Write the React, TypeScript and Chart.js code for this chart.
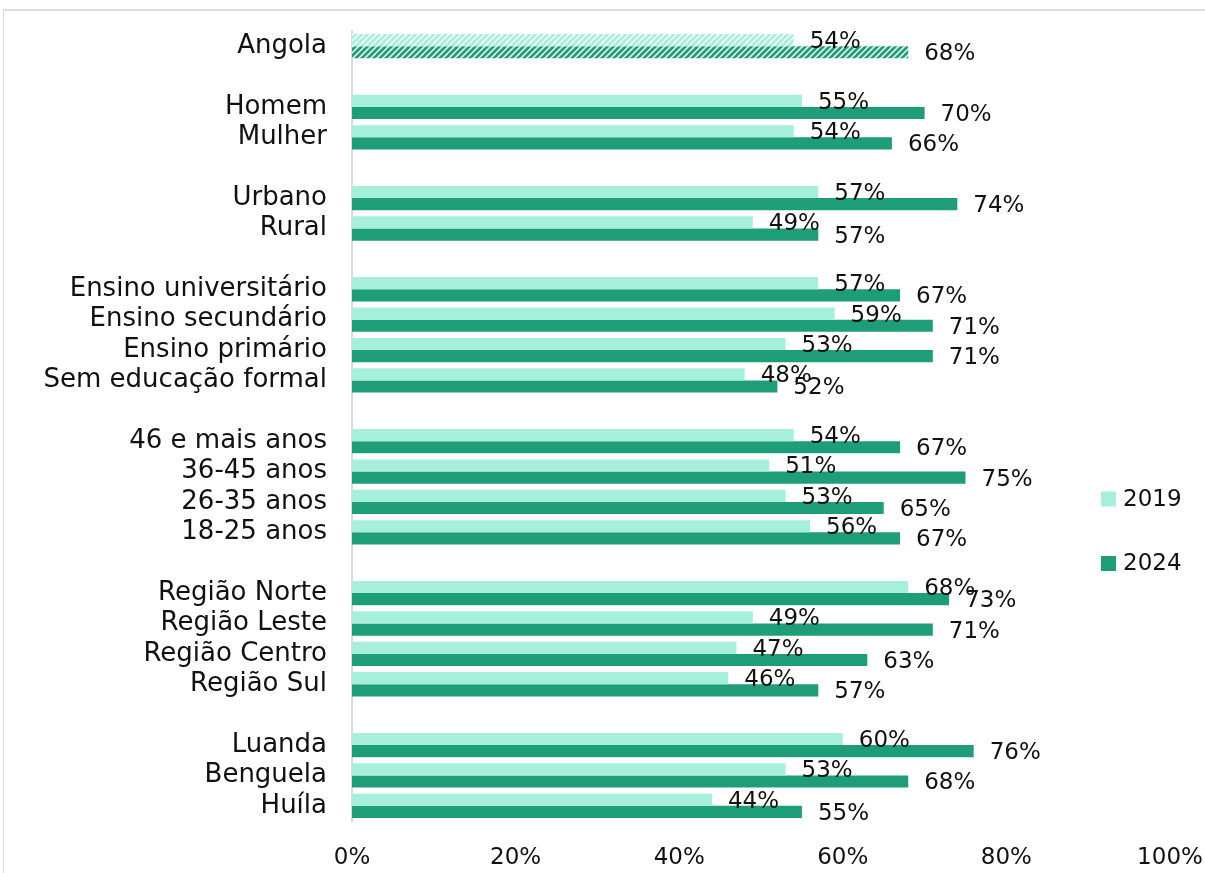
import React, { useEffect, useRef } from "react";
import { Chart, registerables } from "chart.js";

Chart.register(...registerables);

const categories = [
  "Angola", "",
  "Homem", "Mulher", "",
  "Urbano", "Rural", "",
  "Ensino universitário", "Ensino secundário", "Ensino primário", "Sem educação formal", "",
  "46 e mais anos", "36-45 anos", "26-35 anos", "18-25 anos", "",
  "Região Norte", "Região Leste", "Região Centro", "Região Sul", "",
  "Luanda", "Benguela", "Huíla",
];

const values2019 = [
  54, null,
  55, 54, null,
  57, 49, null,
  57, 59, 53, 48, null,
  54, 51, 53, 56, null,
  68, 49, 47, 46, null,
  60, 53, 44,
];

const values2024 = [
  68, null,
  70, 66, null,
  74, 57, null,
  67, 71, 71, 52, null,
  67, 75, 65, 67, null,
  73, 71, 63, 57, null,
  76, 68, 55,
];

const seriesNames = ["2019", "2024"];
const xTicks = [0, 20, 40, 60, 80, 100];

const LIGHT = "#a6efda";
const DARK = "#1e9e78";
const FONT = "'DejaVu Sans', sans-serif";
const TEXT = "#111111";

function makePattern(fg: string, bg: string): CanvasPattern | string {
  const c = document.createElement("canvas");
  c.width = 6;
  c.height = 6;
  const x = c.getContext("2d");
  if (!x) return fg;
  x.fillStyle = bg;
  x.fillRect(0, 0, 6, 6);
  x.strokeStyle = fg;
  x.lineWidth = 2.8;
  x.beginPath();
  x.moveTo(-1, 7);
  x.lineTo(7, -1);
  x.moveTo(-4, 4);
  x.lineTo(4, -4);
  x.moveTo(2, 10);
  x.lineTo(10, 2);
  x.stroke();
  const p = x.createPattern(c, "repeat");
  return p || fg;
}

const labelPlugin = {
  id: "valueLabels",
  afterDatasetsDraw(chart: any) {
    const ctx = chart.ctx;
    ctx.save();
    ctx.font = `23px ${FONT}`;
    ctx.fillStyle = TEXT;
    ctx.textAlign = "left";
    ctx.textBaseline = "middle";
    chart.data.datasets.forEach((ds: any, di: number) => {
      const meta = chart.getDatasetMeta(di);
      meta.data.forEach((el: any, i: number) => {
        const v = ds.data[i];
        if (v === null || v === undefined) return;
        ctx.fillText(`${v}%`, el.x + 16, el.y + 2);
      });
    });
    ctx.restore();
  },
};

const legendPlugin = {
  id: "customLegend",
  afterDraw(chart: any) {
    const ctx = chart.ctx;
    ctx.save();
    ctx.font = `23px ${FONT}`;
    ctx.textAlign = "left";
    ctx.textBaseline = "middle";
    const items = [
      { name: seriesNames[0], color: LIGHT, y: 499 },
      { name: seriesNames[1], color: DARK, y: 563.5 },
    ];
    items.forEach((it) => {
      ctx.fillStyle = it.color;
      ctx.fillRect(1101, it.y - 7.5, 15, 15);
      ctx.fillStyle = TEXT;
      ctx.fillText(it.name, 1123, it.y + 1);
    });
    ctx.restore();
  },
};

export default function App() {
  const ref = useRef<HTMLCanvasElement | null>(null);

  useEffect(() => {
    if (!ref.current) return;
    const lightHatch = makePattern("#a6efda", "#ffffff");
    const darkHatch = makePattern("#1e9e78", "#ffffff");
    const bg2019 = values2019.map((_, i) => (i === 0 ? lightHatch : LIGHT));
    const bg2024 = values2024.map((_, i) => (i === 0 ? darkHatch : DARK));

    const chart = new Chart(ref.current, {
      type: "bar",
      data: {
        labels: categories,
        datasets: [
          {
            label: seriesNames[0],
            data: values2019 as any,
            backgroundColor: bg2019 as any,
            categoryPercentage: 0.8,
            barPercentage: 1.0,
          },
          {
            label: seriesNames[1],
            data: values2024 as any,
            backgroundColor: bg2024 as any,
            categoryPercentage: 0.8,
            barPercentage: 1.0,
          },
        ],
      },
      options: {
        indexAxis: "y",
        responsive: false,
        animation: false,
        devicePixelRatio: 1,
        layout: { padding: { top: 31, right: 35, left: 0, bottom: 0 } },
        plugins: {
          legend: { display: false },
          tooltip: { enabled: false },
        },
        scales: {
          x: {
            min: 0,
            max: 100,
            afterBuildTicks: (scale: any) => {
              scale.ticks = xTicks.map((v) => ({ value: v }));
            },
            grid: { display: false, drawTicks: false },
            border: { display: false },
            ticks: {
              padding: 23,
              color: TEXT,
              font: { family: FONT, size: 23 },
              callback: (v: any) => `${v}%`,
              maxRotation: 0,
            },
            afterFit: (scale: any) => {
              scale.height = 52;
              scale.paddingLeft = 0;
              scale.paddingRight = 0;
            },
          },
          y: {
            grid: { display: false, drawTicks: false },
            border: { display: true, color: "#d9d9d9", width: 2 },
            ticks: {
              autoSkip: false,
              padding: 25,
              color: TEXT,
              font: { family: FONT, size: 26 },
            },
            afterFit: (scale: any) => {
              scale.width = 352;
              scale.paddingTop = 0;
              scale.paddingBottom = 0;
            },
          },
        },
      },
      plugins: [labelPlugin, legendPlugin],
    });
    return () => chart.destroy();
  }, []);

  return (
    <div style={{ position: "fixed", left: 0, top: 0, width: 1205, height: 873, background: "#fff", overflow: "hidden" }}>
      <div
        style={{
          position: "absolute",
          left: 3,
          top: 9,
          width: 1300,
          height: 1000,
          borderTop: "2px solid #dedede",
          borderLeft: "1px solid #dedede",
        }}
      />
      <canvas ref={ref} width={1205} height={873} style={{ position: "absolute", left: 0, top: 0, display: "block" }} />
    </div>
  );
}
